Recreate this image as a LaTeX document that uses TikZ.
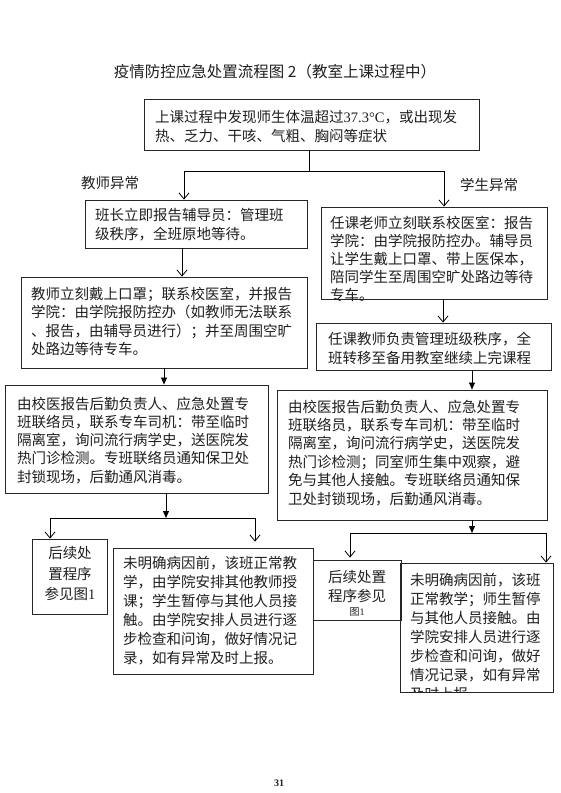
\documentclass[tikz,border=0pt]{standalone}
\usepackage{fontspec}
\setmainfont{Noto Sans CJK SC}
\newfontfamily\lat{Liberation Serif}
\usetikzlibrary{arrows.meta,fit,calc}
\begin{document}
\begin{tikzpicture}[x=1pt,y=-1pt,
  box/.style={draw=black!85, line width=0.9pt, inner sep=0pt, fit={#1}},
  txt/.style={anchor=north west, inner sep=0pt, align=left, text=black!88,
    font=\fontsize{14.5}{18.5}\selectfont},
  ctxt/.style={anchor=north, inner sep=0pt, align=center, text=black!88,
    font=\fontsize{14.5}{20.5}\selectfont},
  lbl/.style={inner sep=0pt, text=black!88, font=\fontsize{14.5}{18}\selectfont},
  vline/.style={draw=black, line width=0.8pt},
  openarr/.style={vline, -{Straight Barb[length=6pt,width=10pt]}},
  fillarr/.style={vline, -{Triangle[length=7pt,width=6pt]}}]
\useasboundingbox[fill=white] (0,0) rectangle (560,793);

% title
\node[inner sep=0pt, text=black!88, font=\fontsize{15.5}{18}\selectfont] (title) at (275,72)
  {疫情防控应急处置流程图 2（教室上课过程中）};

% boxes
\node[box={(144,99)(479,150)}] (b1) {};
\node[txt] (t1) at (155,110.5) {上课过程中发现师生体温超过{\lat 37.3°C}，或出现发\\热、乏力、干咳、气粗、胸闷等症状};

\node[lbl] (lt) at (110,183) {教师异常};
\node[lbl] (ls) at (489,185) {学生异常};

\node[box={(85,200)(307,248)}] (b2) {};
\node[txt] (t2) at (95,208.5) {班长立即报告辅导员：管理班\\级秩序，全班原地等待。};

\node[box={(321,207)(547,299)}] (r1) {};
\node[txt, font=\fontsize{14.5}{18}\selectfont] (tr1) at (330,215.5) {任课老师立刻联系校医室：报告\\学院：由学院报防控办。辅导员\\让学生戴上口罩、带上医保本，\\陪同学生至周围空旷处路边等待\\专车。};

\node[box={(21,277)(307,368)}] (l2) {};
\node[txt] (tl2) at (31,286.5) {教师立刻戴上口罩；联系校医室，并报告\\学院：由学院报防控办（如教师无法联系\\、报告，由辅导员进行）；并至周围空旷\\处路边等待专车。};

\node[box={(316,323)(551,370)}] (r2) {};
\node[txt, font=\fontsize{14.5}{19}\selectfont] (tr2) at (328,331.5) {任课教师负责管理班级秩序，全\\班转移至备用教室继续上完课程};

\node[box={(5,385)(268,493)}] (l3) {};
\node[txt, font=\fontsize{14.5}{18.3}\selectfont] (tl3) at (17,396.5) {由校医报告后勤负责人、应急处置专\\班联络员，联系专车司机：带至临时\\隔离室，询问流行病学史，送医院发\\热门诊检测。专班联络员通知保卫处\\封锁现场，后勤通风消毒。};

\node[box={(277,390)(547,520)}] (r3) {};
\node[txt, font=\fontsize{14.5}{18.4}\selectfont] (tr3) at (288,399.5) {由校医报告后勤负责人、应急处置专\\班联络员，联系专车司机：带至临时\\隔离室，询问流行病学史，送医院发\\热门诊检测；同室师生集中观察，避\\免与其他人接触。专班联络员通知保\\卫处封锁现场，后勤通风消毒。};

\node[box={(32,539)(107,614)}] (l4a) {};
\node[ctxt] (tl4a) at (70,546.5) {后续处\\置程序\\参见图{\lat 1}};

\node[box={(113,548)(313,674)}] (l4b) {};
\node[txt, font=\fontsize{14.5}{19}\selectfont] (tl4b) at (123,556.5) {未明确病因前，该班正常教\\学，由学院安排其他教师授\\课；学生暂停与其他人员接\\触。由学院安排人员进行逐\\步检查和问询，做好情况记\\录，如有异常及时上报。};

\node[box={(313,560)(401,620)}] (r4a) {};
\node[ctxt, font=\fontsize{14.5}{19}\selectfont] (tr4a) at (357,570.5) {后续处置\\程序参见};
\node[inner sep=0pt, text=black!88, font=\fontsize{10}{12}\selectfont] (tr4b) at (357,612) {图{\lat 1}};

\begin{scope}
\clip (400,563) rectangle (553,692);
\node[txt, font=\fontsize{14.5}{19}\selectfont] (tr4c) at (410,573.5) {未明确病因前，该班\\正常教学；师生暂停\\与其他人员接触。由\\学院安排人员进行逐\\步检查和问询，做好\\情况记录，如有异常\\及时上报。};
\end{scope}
\node[box={(400,563)(553,692)}] (r4b) {};

% connectors
\coordinate (j1) at (309,171);
\coordinate (jl) at (184,171);
\coordinate (jr) at (444,171);
\draw[vline] (b1.south -| j1) -- (j1);
\draw[vline] (jl) -- (jr);
\draw[openarr] (jl) -- (jl |- b2.north);
\draw[openarr] (jr) -- (jr |- r1.north);

\draw[openarr] (b2.south -| 182,0) -- (l2.north -| 182,0);
\draw[openarr] (r1.south -| 443,0) -- (r2.north -| 443,0);
\draw[fillarr] (l2.south -| 164,0) -- (l3.north -| 164,0);
\draw[fillarr] (r2.south -| 472,0) -- (r3.north -| 472,0);

\coordinate (k1) at (166,518);
\coordinate (kl) at (50,518);
\coordinate (kr) at (255,518);
\draw[fillarr] (l3.south -| k1) -- (k1);
\draw[vline] (kl) -- (kr);
\draw[openarr] (kl) -- (kl |- l4a.north);
\draw[openarr, shorten >=6pt] (kr) -- (kr |- l4b.north);

\coordinate (m1) at (472,533);
\coordinate (ml) at (350,533);
\coordinate (mr) at (546,533);
\draw[fillarr] (r3.south -| m1) -- (m1);
\draw[vline] (ml) -- (mr);
\draw[openarr, shorten >=2pt] (ml) -- (ml |- r4a.north);
\draw[openarr] (mr) -- (mr |- r4b.north);

% page number
\node[inner sep=0pt, text=black!88, font=\lat\bfseries\fontsize{10}{12}\selectfont] (pg) at (279,783) {31};
\end{tikzpicture}
\end{document}
